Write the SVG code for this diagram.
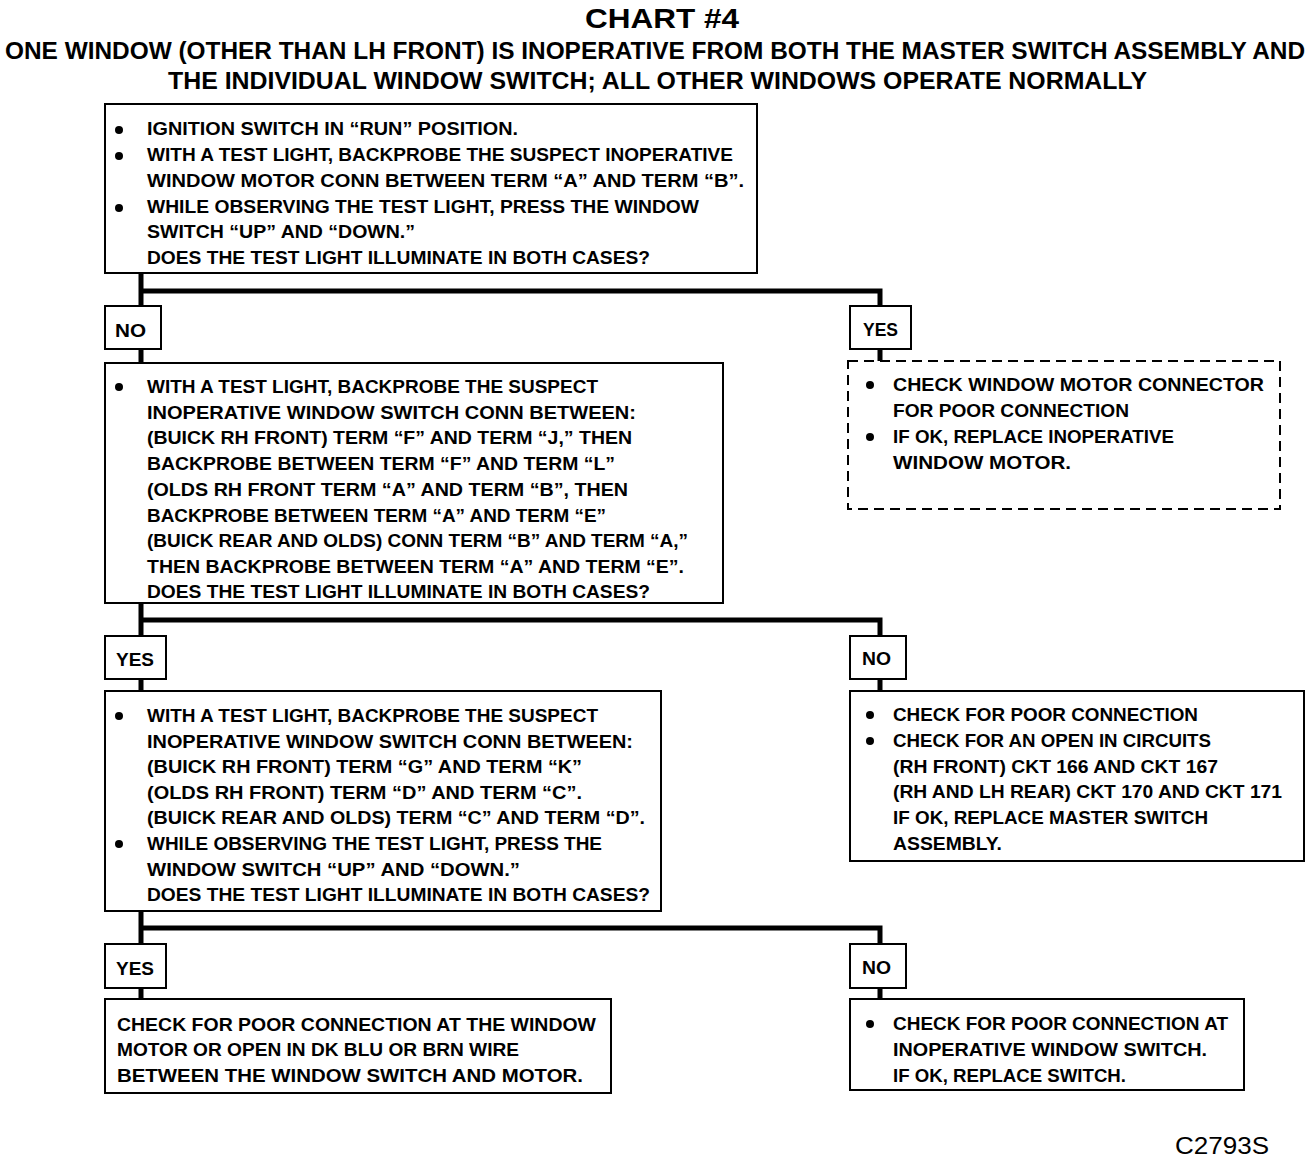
<svg xmlns="http://www.w3.org/2000/svg" width="1312" height="1164" viewBox="0 0 1312 1164">
<style>
.t{font-family:"Liberation Sans",Arial,sans-serif;font-weight:bold;font-size:18px;fill:#000}
.h{font-family:"Liberation Sans",Arial,sans-serif;font-weight:bold;fill:#000}
.box{fill:#fff;stroke:#000;stroke-width:2}
.dash{fill:#fff;stroke:#000;stroke-width:2;stroke-dasharray:10 6}
.con{fill:none;stroke:#000;stroke-width:5;stroke-linejoin:miter}
.b{fill:#000}
</style>
<rect width="1312" height="1164" fill="#fff"/>
<g id="title">
<text class="h" x="585" y="28" font-size="28" textLength="154" lengthAdjust="spacingAndGlyphs">CHART #4</text>
<text class="h" x="5" y="59" font-size="24" textLength="1300" lengthAdjust="spacingAndGlyphs">ONE WINDOW (OTHER THAN LH FRONT) IS INOPERATIVE FROM BOTH THE MASTER SWITCH ASSEMBLY AND</text>
<text class="h" x="168" y="89" font-size="24" textLength="979" lengthAdjust="spacingAndGlyphs">THE INDIVIDUAL WINDOW SWITCH; ALL OTHER WINDOWS OPERATE NORMALLY</text>
</g>
<g id="connectors">
<path class="con" d="M141 273 V306 M141 291 H880 V306"/>
<path class="con" d="M141 349 V363 M880 349 V361"/>
<path class="con" d="M141 603 V636 M141 620 H880 V636"/>
<path class="con" d="M141 679 V691 M880 679 V691"/>
<path class="con" d="M141 911 V944 M141 928 H880 V944"/>
<path class="con" d="M141 988 V999 M880 988 V999"/>
</g>
<g id="box1">
<rect class="box" x="105" y="104" width="652" height="169"/>
<circle class="b" cx="119" cy="130" r="4"/>
<circle class="b" cx="119" cy="156" r="4"/>
<circle class="b" cx="119" cy="208" r="4"/>
<text class="t" x="147" y="135" textLength="371" lengthAdjust="spacingAndGlyphs">IGNITION SWITCH IN “RUN” POSITION.</text>
<text class="t" x="147" y="161" textLength="586" lengthAdjust="spacingAndGlyphs">WITH A TEST LIGHT, BACKPROBE THE SUSPECT INOPERATIVE</text>
<text class="t" x="147" y="187" textLength="597" lengthAdjust="spacingAndGlyphs">WINDOW MOTOR CONN BETWEEN TERM “A” AND TERM “B”.</text>
<text class="t" x="147" y="213" textLength="552" lengthAdjust="spacingAndGlyphs">WHILE OBSERVING THE TEST LIGHT, PRESS THE WINDOW</text>
<text class="t" x="147" y="238" textLength="268" lengthAdjust="spacingAndGlyphs">SWITCH “UP” AND “DOWN.”</text>
<text class="t" x="147" y="264" textLength="503" lengthAdjust="spacingAndGlyphs">DOES THE TEST LIGHT ILLUMINATE IN BOTH CASES?</text>
</g>
<g id="label-no-1">
<rect class="box" x="105" y="306" width="56" height="43"/>
<text class="t" x="115" y="337" textLength="31" lengthAdjust="spacingAndGlyphs">NO</text>
</g>
<g id="label-yes-1">
<rect class="box" x="850" y="306" width="61" height="43"/>
<text class="t" x="863" y="336" textLength="35" lengthAdjust="spacingAndGlyphs">YES</text>
</g>
<g id="box-motor">
<rect class="dash" x="848" y="361" width="432" height="148"/>
<circle class="b" cx="870" cy="385" r="4"/>
<circle class="b" cx="870" cy="437" r="4"/>
<text class="t" x="893" y="391" textLength="371" lengthAdjust="spacingAndGlyphs">CHECK WINDOW MOTOR CONNECTOR</text>
<text class="t" x="893" y="417" textLength="236" lengthAdjust="spacingAndGlyphs">FOR POOR CONNECTION</text>
<text class="t" x="893" y="443" textLength="281" lengthAdjust="spacingAndGlyphs">IF OK, REPLACE INOPERATIVE</text>
<text class="t" x="893" y="469" textLength="178" lengthAdjust="spacingAndGlyphs">WINDOW MOTOR.</text>
</g>
<g id="box2">
<rect class="box" x="105" y="363" width="618" height="240"/>
<circle class="b" cx="119" cy="387" r="4"/>
<text class="t" x="147" y="393" textLength="451" lengthAdjust="spacingAndGlyphs">WITH A TEST LIGHT, BACKPROBE THE SUSPECT</text>
<text class="t" x="147" y="419" textLength="489" lengthAdjust="spacingAndGlyphs">INOPERATIVE WINDOW SWITCH CONN BETWEEN:</text>
<text class="t" x="147" y="444" textLength="485" lengthAdjust="spacingAndGlyphs">(BUICK RH FRONT) TERM “F” AND TERM “J,” THEN</text>
<text class="t" x="147" y="470" textLength="468" lengthAdjust="spacingAndGlyphs">BACKPROBE BETWEEN TERM “F” AND TERM “L”</text>
<text class="t" x="147" y="496" textLength="481" lengthAdjust="spacingAndGlyphs">(OLDS RH FRONT TERM “A” AND TERM “B”, THEN</text>
<text class="t" x="147" y="522" textLength="459" lengthAdjust="spacingAndGlyphs">BACKPROBE BETWEEN TERM “A” AND TERM “E”</text>
<text class="t" x="147" y="547" textLength="541" lengthAdjust="spacingAndGlyphs">(BUICK REAR AND OLDS) CONN TERM “B” AND TERM “A,”</text>
<text class="t" x="147" y="573" textLength="537" lengthAdjust="spacingAndGlyphs">THEN BACKPROBE BETWEEN TERM “A” AND TERM “E”.</text>
<text class="t" x="147" y="598" textLength="503" lengthAdjust="spacingAndGlyphs">DOES THE TEST LIGHT ILLUMINATE IN BOTH CASES?</text>
</g>
<g id="label-yes-2">
<rect class="box" x="105" y="636" width="61" height="43"/>
<text class="t" x="116" y="666" textLength="38" lengthAdjust="spacingAndGlyphs">YES</text>
</g>
<g id="label-no-2">
<rect class="box" x="850" y="636" width="56" height="43"/>
<text class="t" x="862" y="665" textLength="29" lengthAdjust="spacingAndGlyphs">NO</text>
</g>
<g id="box3">
<rect class="box" x="105" y="691" width="556" height="220"/>
<circle class="b" cx="119" cy="716" r="4"/>
<circle class="b" cx="119" cy="844" r="4"/>
<text class="t" x="147" y="722" textLength="451" lengthAdjust="spacingAndGlyphs">WITH A TEST LIGHT, BACKPROBE THE SUSPECT</text>
<text class="t" x="147" y="748" textLength="486" lengthAdjust="spacingAndGlyphs">INOPERATIVE WINDOW SWITCH CONN BETWEEN:</text>
<text class="t" x="147" y="773" textLength="435" lengthAdjust="spacingAndGlyphs">(BUICK RH FRONT) TERM “G” AND TERM “K”</text>
<text class="t" x="147" y="799" textLength="435" lengthAdjust="spacingAndGlyphs">(OLDS RH FRONT) TERM “D” AND TERM “C”.</text>
<text class="t" x="147" y="824" textLength="498" lengthAdjust="spacingAndGlyphs">(BUICK REAR AND OLDS) TERM “C” AND TERM “D”.</text>
<text class="t" x="147" y="850" textLength="455" lengthAdjust="spacingAndGlyphs">WHILE OBSERVING THE TEST LIGHT, PRESS THE</text>
<text class="t" x="147" y="876" textLength="373" lengthAdjust="spacingAndGlyphs">WINDOW SWITCH “UP” AND “DOWN.”</text>
<text class="t" x="147" y="901" textLength="503" lengthAdjust="spacingAndGlyphs">DOES THE TEST LIGHT ILLUMINATE IN BOTH CASES?</text>
</g>
<g id="box-master">
<rect class="box" x="850" y="691" width="454" height="170"/>
<circle class="b" cx="870" cy="715" r="4"/>
<circle class="b" cx="870" cy="741" r="4"/>
<text class="t" x="893" y="721" textLength="305" lengthAdjust="spacingAndGlyphs">CHECK FOR POOR CONNECTION</text>
<text class="t" x="893" y="747" textLength="318" lengthAdjust="spacingAndGlyphs">CHECK FOR AN OPEN IN CIRCUITS</text>
<text class="t" x="893" y="773" textLength="325" lengthAdjust="spacingAndGlyphs">(RH FRONT) CKT 166 AND CKT 167</text>
<text class="t" x="893" y="798" textLength="389" lengthAdjust="spacingAndGlyphs">(RH AND LH REAR) CKT 170 AND CKT 171</text>
<text class="t" x="893" y="824" textLength="315" lengthAdjust="spacingAndGlyphs">IF OK, REPLACE MASTER SWITCH</text>
<text class="t" x="893" y="850" textLength="109" lengthAdjust="spacingAndGlyphs">ASSEMBLY.</text>
</g>
<g id="label-yes-3">
<rect class="box" x="105" y="944" width="61" height="44"/>
<text class="t" x="116" y="975" textLength="38" lengthAdjust="spacingAndGlyphs">YES</text>
</g>
<g id="label-no-3">
<rect class="box" x="850" y="944" width="56" height="44"/>
<text class="t" x="862" y="974" textLength="29" lengthAdjust="spacingAndGlyphs">NO</text>
</g>
<g id="box-wire">
<rect class="box" x="105" y="999" width="506" height="94"/>
<text class="t" x="117" y="1031" textLength="479" lengthAdjust="spacingAndGlyphs">CHECK FOR POOR CONNECTION AT THE WINDOW</text>
<text class="t" x="117" y="1056" textLength="402" lengthAdjust="spacingAndGlyphs">MOTOR OR OPEN IN DK BLU OR BRN WIRE</text>
<text class="t" x="117" y="1082" textLength="466" lengthAdjust="spacingAndGlyphs">BETWEEN THE WINDOW SWITCH AND MOTOR.</text>
</g>
<g id="box-switch">
<rect class="box" x="850" y="999" width="394" height="91"/>
<circle class="b" cx="870" cy="1024" r="4"/>
<text class="t" x="893" y="1030" textLength="335" lengthAdjust="spacingAndGlyphs">CHECK FOR POOR CONNECTION AT</text>
<text class="t" x="893" y="1056" textLength="314" lengthAdjust="spacingAndGlyphs">INOPERATIVE WINDOW SWITCH.</text>
<text class="t" x="893" y="1082" textLength="233" lengthAdjust="spacingAndGlyphs">IF OK, REPLACE SWITCH.</text>
</g>
<g id="code">
<text x="1175" y="1154" font-family="Liberation Sans, Arial, sans-serif" font-size="24" textLength="94" lengthAdjust="spacingAndGlyphs">C2793S</text>
</g>
</svg>
